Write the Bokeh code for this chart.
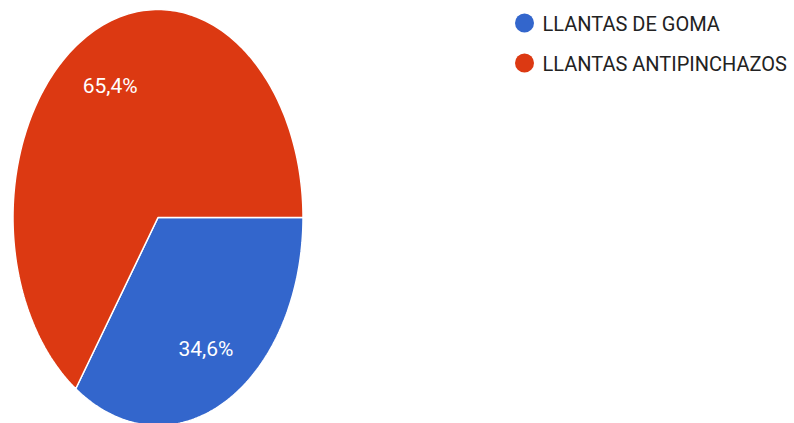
import numpy as np
from bokeh.plotting import figure
from bokeh.models import Range1d, ColumnDataSource
from bokeh.core.properties import value
from bokeh.embed import file_html
from bokeh.resources import INLINE

categories = ["LLANTAS DE GOMA", "LLANTAS ANTIPINCHAZOS"]
shares = [34.6, 65.4]
labels = ["34,6%", "65,4%"]
colors = ["#3366cc", "#dc3912"]

W, H = 794, 423
p = figure(width=W, height=H, output_backend="svg", toolbar_location=None,
           x_range=Range1d(0, W), y_range=Range1d(H, 0),
           min_border=0, outline_line_color=None)
p.axis.visible = False
p.grid.visible = False
p.background_fill_color = "white"
p.border_fill_color = "white"

# pie geometry (page pixel space; vertically stretched like the reference)
cx, cy, rx, ry = 157.5, 217.0, 145.0, 208.0
fr = np.array(shares) / sum(shares)
ends = np.cumsum(fr) * 2 * np.pi
starts = ends - fr * 2 * np.pi

xs, ys, lx, ly = [], [], [], []
for s, e in zip(starts, ends):
    t = np.linspace(s, e, 200)
    xs.append(np.concatenate([[cx], cx + rx * np.cos(t), [cx]]))
    ys.append(np.concatenate([[cy], cy + ry * np.sin(t), [cy]]))
    m = (s + e) / 2
    lx.append(cx + 0.71 * rx * np.cos(m))
    ly.append(cy + 0.715 * ry * np.sin(m))

src = ColumnDataSource(dict(xs=xs, ys=ys, color=colors))
p.patches("xs", "ys", source=src, fill_color="color", line_color="white", line_width=1.5)

p.text(x=lx, y=ly, text=labels, text_color="white", text_font=value("Roboto"),
       text_font_size="21px", text_align="center", text_baseline="middle")

# legend
leg_y = [22.5, 62.5]
p.scatter(x=[524, 524], y=leg_y, marker="circle", size=19, fill_color=colors, line_color=None)
p.text(x=[542, 542], y=[v + 1 for v in leg_y], text=categories, text_color="#222222",
       text_font=value("Roboto"), text_font_size="20px", text_align="left",
       text_baseline="middle")

open("out.html", "w").write(file_html(p, INLINE))
